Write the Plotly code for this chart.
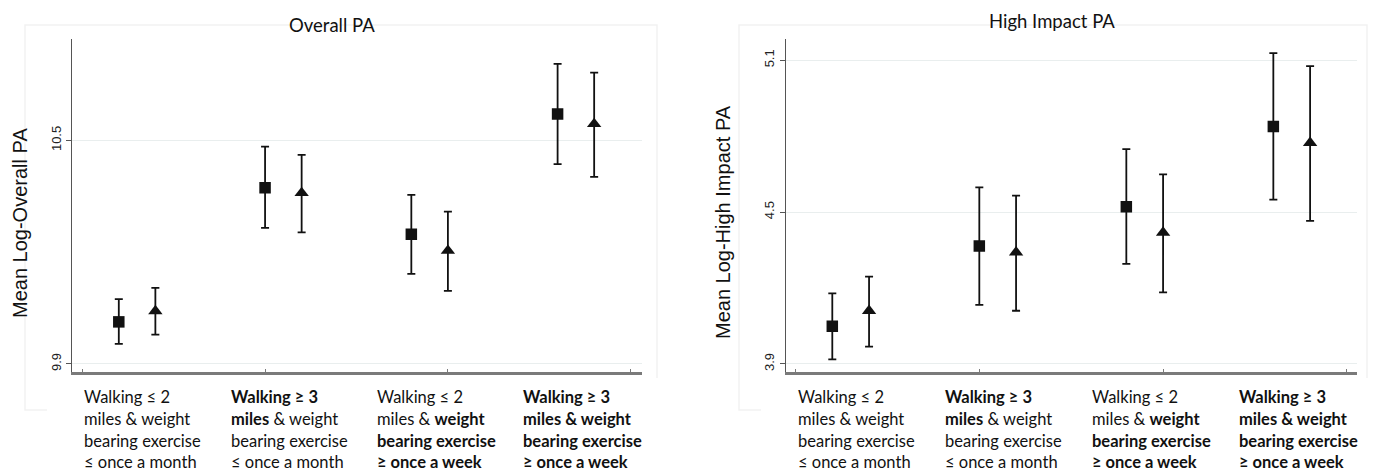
import plotly.graph_objects as go

W, H = 1374, 473

# ---------------- data ----------------
categories = [1, 2, 3, 4]
tick_positions = [0.75, 2.0, 3.25, 4.5]

panel_titles = ["Overall PA", "High Impact PA"]
y_titles = ["Mean Log-Overall PA", "Mean Log-High Impact PA"]

overall_sq_mean = [10.013, 10.373, 10.248, 10.571]
overall_sq_lo = [9.954, 10.265, 10.142, 10.436]
overall_sq_hi = [10.074, 10.483, 10.354, 10.705]
overall_tri_mean = [10.042, 10.359, 10.204, 10.544]
overall_tri_lo = [9.979, 10.253, 10.096, 10.402]
overall_tri_hi = [10.104, 10.461, 10.309, 10.682]

high_sq_mean = [4.049, 4.366, 4.521, 4.838]
high_sq_lo = [3.918, 4.133, 4.295, 4.549]
high_sq_hi = [4.179, 4.598, 4.749, 5.128]
high_tri_mean = [4.110, 4.341, 4.419, 4.774]
high_tri_lo = [3.968, 4.110, 4.183, 4.465]
high_tri_hi = [4.245, 4.565, 4.649, 5.077]

overall_ticks = [9.9, 10.5]
high_ticks = [3.9, 4.5, 5.1]

category_lines = [
    ["Walking ≤ 2", "miles &amp; weight", "bearing exercise", "≤ once a month"],
    ["<b>Walking ≥ 3</b>", "<b>miles</b> &amp; weight", "bearing exercise", "≤ once a month"],
    ["Walking ≤ 2", "miles &amp; <b>weight</b>", "<b>bearing exercise</b>", "<b>≥ once a week</b>"],
    ["<b>Walking ≥ 3</b>", "<b>miles &amp; weight</b>", "<b>bearing exercise</b>", "<b>≥ once a week</b>"],
]

# ---------------- layout geometry (pixels) ----------------
def px(x):
    return x / W

def py(y):
    return 1 - y / H

x_dom = [[72, 641.7], [785.7, 1356.7]]
y_dom = [39, 372]
x_rng = [[0.68, 4.575], [0.683, 4.567]]
y_rng = [[9.8785, 10.772], [3.868, 5.184]]

fig = go.Figure()

offset = 0.25
panels = [
    (overall_sq_mean, overall_sq_lo, overall_sq_hi, overall_tri_mean, overall_tri_lo, overall_tri_hi),
    (high_sq_mean, high_sq_lo, high_sq_hi, high_tri_mean, high_tri_lo, high_tri_hi),
]
ink = "#111111"
for i, (sm, sl, sh, tm, tl, th) in enumerate(panels):
    xa = "x" if i == 0 else "x2"
    ya = "y" if i == 0 else "y2"
    fig.add_trace(go.Scatter(
        x=categories, y=sm, mode="markers", xaxis=xa, yaxis=ya,
        marker=dict(symbol="square", size=11.5, color=ink),
        error_y=dict(type="data", symmetric=False,
                     array=[h - m for h, m in zip(sh, sm)],
                     arrayminus=[m - l for m, l in zip(sm, sl)],
                     color=ink, thickness=1.8, width=4),
        showlegend=False, hoverinfo="skip"))
    fig.add_trace(go.Scatter(
        x=[c + offset for c in categories], y=tm, mode="markers", xaxis=xa, yaxis=ya,
        marker=dict(symbol="triangle-up", size=12.5, color=ink),
        error_y=dict(type="data", symmetric=False,
                     array=[h - m for h, m in zip(th, tm)],
                     arrayminus=[m - l for m, l in zip(tm, tl)],
                     color=ink, thickness=1.8, width=4),
        showlegend=False, hoverinfo="skip"))

axis_common_x = dict(showgrid=False, zeroline=False, showline=True, linecolor="#7a7a7a",
                     linewidth=2.5, ticks="inside", ticklen=3, tickcolor="#7a7a7a",
                     tickvals=tick_positions, showticklabels=False)
axis_common_y = dict(showgrid=True, gridcolor="#e9eeee", gridwidth=1, zeroline=False,
                     showline=True, linecolor="#555555", linewidth=1.3, ticks="outside",
                     ticklen=5, tickcolor="#555555", tickangle=-90,
                     tickfont=dict(family="Liberation Sans, Arial", size=13, color="#222222"))

fig.update_layout(
    width=W, height=H, margin=dict(l=0, r=0, t=0, b=0),
    paper_bgcolor="white", plot_bgcolor="white",
    xaxis=dict(domain=[px(x_dom[0][0]), px(x_dom[0][1])], range=x_rng[0], anchor="y", **axis_common_x),
    xaxis2=dict(domain=[px(x_dom[1][0]), px(x_dom[1][1])], range=x_rng[1], anchor="y2", **axis_common_x),
    yaxis=dict(domain=[py(y_dom[1]), py(y_dom[0])], range=y_rng[0], anchor="x",
               tickvals=overall_ticks, ticktext=[str(v) for v in overall_ticks], **axis_common_y),
    yaxis2=dict(domain=[py(y_dom[1]), py(y_dom[0])], range=y_rng[1], anchor="x2",
                tickvals=high_ticks, ticktext=[str(v) for v in high_ticks], **axis_common_y),
)

# faint outer boxes
box_color = "#f2f2f2"
for (x0, x1) in [(25, 657), (739, 1367)]:
    fig.add_shape(type="rect", xref="paper", yref="paper", x0=px(x0), x1=px(x1), y0=py(410), y1=py(25),
                  line=dict(color=box_color, width=1.5), fillcolor="rgba(0,0,0,0)", layer="below")
# white cover behind the label block
for (x0, x1) in [(47, 690), (761, 1374)]:
    fig.add_shape(type="rect", xref="paper", yref="paper", x0=px(x0), x1=px(x1), y0=py(473), y1=py(378),
                  line=dict(width=0), fillcolor="white", layer="below")

annotations = []
title_pos = [(332, 25), (1052, 21)]
ytitle_pos = [(20, 223), (723, 222)]
for i in range(2):
    annotations.append(dict(text=panel_titles[i], xref="paper", yref="paper",
                            x=px(title_pos[i][0]), y=py(title_pos[i][1]), xanchor="center", yanchor="middle",
                            showarrow=False, font=dict(family="Lato", size=18.5, color="#111111")))
    annotations.append(dict(text=y_titles[i], xref="paper", yref="paper", textangle=-90,
                            x=px(ytitle_pos[i][0]), y=py(ytitle_pos[i][1]), xanchor="center", yanchor="middle",
                            showarrow=False, font=dict(family="Liberation Sans, Arial", size=20, color="#111111")))

line_centers = [397, 419, 441, 462]
for i in range(2):
    xa = "x" if i == 0 else "x2"
    for c, lines in zip(categories, category_lines):
        for ln, yc in zip(lines, line_centers):
            annotations.append(dict(text=ln, xref=xa, yref="paper", x=c - 0.25, y=py(yc),
                                    xanchor="left", yanchor="middle", showarrow=False,
                                    font=dict(family="Lato", size=16.5, color="#111111")))

fig.update_layout(annotations=annotations)

fig.write_html("out.html", config={"displayModeBar": False},
               post_script="document.body.style.margin='0';document.body.style.overflow='hidden';")
